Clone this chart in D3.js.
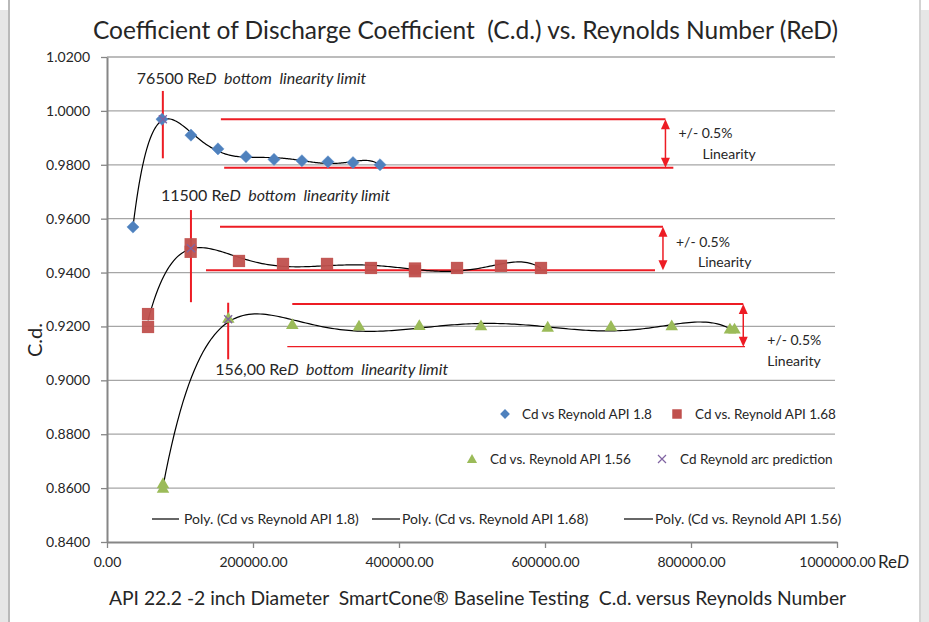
<!DOCTYPE html>
<html>
<head>
<meta charset="utf-8">
<script src="https://cdn.jsdelivr.net/npm/d3@7"></script>
<style>
  body { margin: 0; background: #fff; }
  text { font-family: Lato, "Open Sans", sans-serif; fill: #262626; white-space: pre; }
</style>
</head>
<body>
<script>
// Cd vs Reynold API 1.8
const reD18 = [35600, 75300, 115000, 152000, 190400, 228800, 267000, 302700, 337000, 374000]
const cd18 = [0.9569, 0.9969, 0.9910, 0.9859, 0.9830, 0.9820, 0.9815, 0.9811, 0.9808, 0.9800]

// Cd vs. Reynold API 1.68
const reD168 = [56200, 56200, 114600, 114600, 180800, 241100, 301400, 361600, 421900, 421900, 479500, 539700, 594500]
const cd168 = [0.9246, 0.9198, 0.9505, 0.9477, 0.9443, 0.9432, 0.9432, 0.9417, 0.9415, 0.9405, 0.9417, 0.9425, 0.9417]

// Cd vs. Reynold API 1.56
const reD156 = [76700, 76700, 166200, 253800, 345200, 427800, 512300, 603700, 690400, 773600, 853400, 859600]
const cd156 = [0.8613, 0.8596, 0.9227, 0.9204, 0.9198, 0.9200, 0.9199, 0.9194, 0.9197, 0.9199, 0.9187, 0.9187]

// Cd Reynold arc prediction
const reDArc = [76500, 115000, 166000]
const cdArc = [0.9969, 0.9490, 0.9227]

// bottom linearity limits
const limitReD = [76500, 115000, 166000]
const limitCdTop = [1.0074, 0.9632, 0.9288]
const limitCdBottom = [0.9824, 0.9290, 0.9078]
const limitLabels = ["76500", "11500", "156,00"]

// +/- 0.5% linearity bands
const bandCdTop = [0.9969, 0.9570, 0.9283]
const bandCdBottom = [0.9789, 0.9409, 0.9125]
const bandTopFrom = [156000, 154800, 253800]
const bandTopTo = [765000, 761600, 871600]
const bandBottomFrom = [160500, 135600, 247000]
const bandBottomTo = [775800, 750700, 874000]

const yTicks = [0.84, 0.86, 0.88, 0.90, 0.92, 0.94, 0.96, 0.98, 1.00, 1.02]
const xTicks = [0, 200000, 400000, 600000, 800000, 1000000]

const w = 929
const h = 622
const red = "#ed1c24"

const xScale = d3.scaleLinear().domain([0, 1000000]).range([107, 837])
const yScale = d3.scaleLinear().domain([0.84, 1.02]).range([542, 57])

const svg = d3.select("body").append("svg")
              .attr("width", w)
              .attr("height", h)

// window frame
svg.append("rect").attr("x", 0).attr("y", 10).attr("width", 8).attr("height", h).attr("fill", "#e6e6e6")
svg.append("line").attr("x1", 9).attr("x2", 9).attr("y1", 0).attr("y2", h).attr("stroke", "#b9b9b9").attr("stroke-width", 2)
svg.append("rect").attr("x", 921).attr("y", 10).attr("width", 8).attr("height", h).attr("fill", "#e6e6e6")
svg.append("line").attr("x1", 920).attr("x2", 920).attr("y1", 0).attr("y2", h).attr("stroke", "#c4c4c4").attr("stroke-width", 1.5)

// gridlines
svg.append("g").selectAll("line")
   .data(yTicks.slice(1))
   .enter()
   .append("line")
   .attr("x1", xScale(0))
   .attr("x2", xScale(1000000) - 2)
   .attr("y1", (d) => yScale(d))
   .attr("y2", (d) => yScale(d))
   .attr("stroke", "#a6a6a6")
   .attr("stroke-width", 1.3)

// axes
const yAxis = d3.axisLeft(yScale).tickValues(yTicks).tickFormat(d3.format(".4f")).tickSize(6).tickSizeOuter(0).tickPadding(11)
const xAxis = d3.axisBottom(xScale).tickValues(xTicks).tickFormat(d3.format(".2f")).tickSize(6).tickSizeOuter(0).tickPadding(9)

const gy = svg.append("g").attr("transform", "translate(" + xScale(0) + ",0)").call(yAxis)
const gx = svg.append("g").attr("transform", "translate(0," + yScale(0.84) + ")").call(xAxis)
;[gx, gy].forEach((g) => {
    g.select(".domain").attr("stroke", "#868686").attr("stroke-width", 2)
    g.selectAll(".tick line").attr("stroke", "#868686").attr("stroke-width", 1.3)
    g.selectAll(".tick text").style("font-family", "Lato").style("font-size", "14px").attr("fill", "#262626")
})

// ReD after the axis
const reLabel = svg.append("text").attr("x", 878).attr("y", 568).style("font-size", "17px")
reLabel.append("tspan").text("Re")
reLabel.append("tspan").style("font-style", "italic").text("D")

// polynomial trendline (least squares, order 6)
function polyFit(xs, ys, deg) {
    const x0 = d3.min(xs), x1 = d3.max(xs)
    const tf = (x) => (x - x0) / (x1 - x0) * 2 - 1
    const n = deg + 1
    const A = [], b = []
    for (let i = 0; i < n; i++) {
        A.push(new Array(n).fill(0))
        b.push(0)
    }
    xs.forEach((x, k) => {
        const t = tf(x)
        for (let i = 0; i < n; i++) {
            for (let j = 0; j < n; j++) A[i][j] += Math.pow(t, i + j)
            b[i] += ys[k] * Math.pow(t, i)
        }
    })
    for (let c = 0; c < n; c++) {
        let p = c
        for (let r = c + 1; r < n; r++) if (Math.abs(A[r][c]) > Math.abs(A[p][c])) p = r
        ;[A[c], A[p]] = [A[p], A[c]]
        ;[b[c], b[p]] = [b[p], b[c]]
        for (let r = c + 1; r < n; r++) {
            const f = A[r][c] / A[c][c]
            for (let k = c; k < n; k++) A[r][k] -= f * A[c][k]
            b[r] -= f * b[c]
        }
    }
    const coef = new Array(n).fill(0)
    for (let r = n - 1; r >= 0; r--) {
        let s = b[r]
        for (let k = r + 1; k < n; k++) s -= A[r][k] * coef[k]
        coef[r] = s / A[r][r]
    }
    const f = (x) => {
        const t = tf(x)
        return coef.reduce((acc, c, i) => acc + c * Math.pow(t, i), 0)
    }
    return d3.range(0, 201).map((i) => {
        const x = x0 + (x1 - x0) * i / 200
        return [x, f(x)]
    })
}

const line = d3.line().x((d) => xScale(d[0])).y((d) => yScale(d[1])).curve(d3.curveLinear)

// red limit lines and bands (under points)
const ann = svg.append("g")
ann.selectAll(".limit")
   .data(limitReD)
   .enter()
   .append("line")
   .attr("x1", (d) => xScale(d))
   .attr("x2", (d) => xScale(d))
   .attr("y1", (d, i) => yScale(limitCdTop[i]))
   .attr("y2", (d, i) => yScale(limitCdBottom[i]))
   .attr("stroke", red)
   .attr("stroke-width", 2)

ann.selectAll(".btop")
   .data(bandCdTop)
   .enter()
   .append("line")
   .attr("x1", (d, i) => xScale(bandTopFrom[i]))
   .attr("x2", (d, i) => xScale(bandTopTo[i]))
   .attr("y1", (d) => yScale(d))
   .attr("y2", (d) => yScale(d))
   .attr("stroke", red)
   .attr("stroke-width", 2)

ann.selectAll(".bbot")
   .data(bandCdBottom)
   .enter()
   .append("line")
   .attr("x1", (d, i) => xScale(bandBottomFrom[i]))
   .attr("x2", (d, i) => xScale(bandBottomTo[i]))
   .attr("y1", (d) => yScale(d))
   .attr("y2", (d) => yScale(d))
   .attr("stroke", red)
   .attr("stroke-width", (d, i) => i === 2 ? 1.3 : 2)

// double arrows
bandCdTop.forEach((top, i) => {
    const ax = xScale(bandTopTo[i])
    const y1 = yScale(top), y2 = yScale(bandCdBottom[i])
    ann.append("line").attr("x1", ax).attr("x2", ax).attr("y1", y1 + 6).attr("y2", y2 - 6)
       .attr("stroke", red).attr("stroke-width", 1.5)
    ann.append("path").attr("d", "M" + ax + "," + y1 + "l-4.5,10h9z").attr("fill", red)
    ann.append("path").attr("d", "M" + ax + "," + y2 + "l-4.5,-10h9z").attr("fill", red)
})

// linearity labels
const linOff = [[13, 19, 37, 40], [13, 20, 35, 40], [24, 41, 24, 62]]
bandCdTop.forEach((top, i) => {
    const ax = xScale(bandTopTo[i]), y1 = yScale(top)
    svg.append("text").attr("x", ax + linOff[i][0]).attr("y", y1 + linOff[i][1]).style("font-size", "14px").text("+/- 0.5%")
    svg.append("text").attr("x", ax + linOff[i][2]).attr("y", y1 + linOff[i][3]).style("font-size", "14px").text("Linearity")
})

// limit labels
const limOff = [[-26, -7, "top"], [-30, -9, "top"], [-13, 16, "bottom"]]
limitReD.forEach((r, i) => {
    const lx = xScale(r)
    const ly = limOff[i][2] === "top" ? yScale(limitCdTop[i]) : yScale(limitCdBottom[i])
    const t = svg.append("text").attr("x", lx + limOff[i][0]).attr("y", ly + limOff[i][1]).style("font-size", "16px")
    t.append("tspan").text(limitLabels[i] + " Re")
    t.append("tspan").style("font-style", "italic").text("D  bottom  linearity limit")
})

// trendlines
const series = [[reD18, cd18], [reD168, cd168], [reD156, cd156]]
series.forEach((s) => {
    svg.append("path")
       .attr("d", line(polyFit(s[0], s[1], 6)))
       .attr("fill", "none")
       .attr("stroke", "#000")
       .attr("stroke-width", 1.2)
})

// points
const pts = svg.append("g")
pts.selectAll(".dia")
   .data(reD18)
   .enter()
   .append("path")
   .attr("d", d3.symbol(d3.symbolSquare, 74)())
   .attr("transform", (d, i) => "translate(" + xScale(d) + "," + yScale(cd18[i]) + ") rotate(45)")
   .attr("fill", "#4f81bd")
   .attr("stroke", "#5b8fcb")
   .attr("stroke-width", 0.5)

pts.selectAll(".sq")
   .data(reD168)
   .enter()
   .append("path")
   .attr("d", d3.symbol(d3.symbolSquare, 150)())
   .attr("transform", (d, i) => "translate(" + xScale(d) + "," + yScale(cd168[i]) + ")")
   .attr("fill", "#c0504d")
   .attr("opacity", 0.95)

pts.selectAll(".tri")
   .data(reD156)
   .enter()
   .append("path")
   .attr("d", d3.symbol(d3.symbolTriangle, 68)())
   .attr("transform", (d, i) => "translate(" + xScale(d) + "," + yScale(cd156[i]) + ")")
   .attr("fill", "#9bbb59")

const xMark = "M-4,-4L4,4M-4,4L4,-4"
pts.selectAll(".arc")
   .data(reDArc)
   .enter()
   .append("path")
   .attr("d", xMark)
   .attr("transform", (d, i) => "translate(" + xScale(d) + "," + yScale(cdArc[i]) + ")")
   .attr("stroke", "#8064a2")
   .attr("stroke-width", 1.3)
   .attr("fill", "none")

// legend
const lg = svg.append("g").style("font-size", "13.5px")
lg.append("path").attr("d", d3.symbol(d3.symbolSquare, 48)()).attr("transform", "translate(505,414) rotate(45)").attr("fill", "#4f81bd")
lg.append("text").attr("x", 522).attr("y", 419).text("Cd vs Reynold API 1.8")
lg.append("path").attr("d", d3.symbol(d3.symbolSquare, 90)()).attr("transform", "translate(677,414)").attr("fill", "#c0504d")
lg.append("text").attr("x", 695).attr("y", 419).text("Cd vs. Reynold API 1.68")
lg.append("path").attr("d", d3.symbol(d3.symbolTriangle, 45)()).attr("transform", "translate(472,460)").attr("fill", "#9bbb59")
lg.append("text").attr("x", 490).attr("y", 464).text("Cd vs. Reynold API 1.56")
lg.append("path").attr("d", xMark).attr("transform", "translate(662,459)").attr("stroke", "#8064a2").attr("stroke-width", 1.2).attr("fill", "none")
lg.append("text").attr("x", 680).attr("y", 464).text("Cd Reynold arc prediction")

const polyLegend = [
    [152, 179, 184, "Poly. (Cd vs Reynold API 1.8)"],
    [372, 400, 402, "Poly. (Cd vs. Reynold API 1.68)"],
    [624, 653, 655, "Poly. (Cd vs. Reynold API 1.56)"]
]
polyLegend.forEach((p) => {
    lg.append("line").attr("x1", p[0]).attr("x2", p[1]).attr("y1", 519).attr("y2", 519).attr("stroke", "#000").attr("stroke-width", 1.2)
    lg.append("text").attr("x", p[2]).attr("y", 524).style("font-size", "14px").text(p[3])
})

// titles
svg.append("text")
   .attr("x", 465.5)
   .attr("y", 39)
   .attr("text-anchor", "middle")
   .style("font-size", "24.5px")
   .text("Coefficient of Discharge Coefficient  (C.d.) vs. Reynolds Number (ReD)")

svg.append("text")
   .attr("transform", "translate(42,340) rotate(-90)")
   .attr("text-anchor", "middle")
   .style("font-size", "20px")
   .text("C.d.")

svg.append("text")
   .attr("x", 477.5)
   .attr("y", 605)
   .attr("text-anchor", "middle")
   .style("font-size", "19.3px")
   .text("API 22.2 -2 inch Diameter  SmartCone\u00ae Baseline Testing  C.d. versus Reynolds Number")
</script>
</body>
</html>
